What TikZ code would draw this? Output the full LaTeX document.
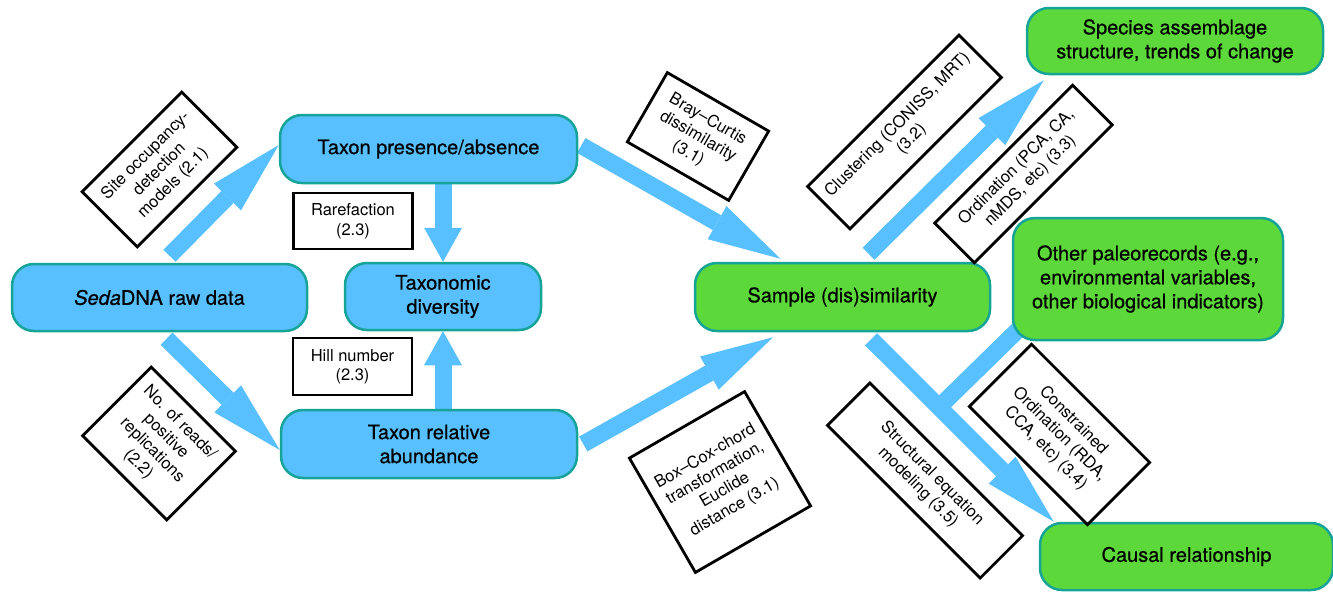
\documentclass[tikz,border=0pt]{standalone}
\usepackage{fontspec}
\setmainfont{TeX Gyre Heros}
\newfontfamily\stagefont[FakeBold=0.6]{TeX Gyre Heros}
\usetikzlibrary{arrows.meta,backgrounds,calc}

\definecolor{boxblue}{HTML}{58C0FE}
\definecolor{boxgreen}{HTML}{5DD83A}
\definecolor{boxedge}{HTML}{17A498}

\tikzset{
  stage/.style={draw=boxedge, line width=2.5pt, rounded corners=22pt, align=center,
    inner sep=0pt, font=\stagefont\fontsize{20}{24}\selectfont},
  datastage/.style={stage, fill=boxblue},
  resultstage/.style={stage, fill=boxgreen},
  method/.style={draw, line width=2.8pt, fill=white, align=center, inner sep=0pt,
    font=\fontsize{16.5}{19.5}\selectfont},
  flow/.style={line width=17pt, draw=boxblue,
    -{Triangle[length=73pt,width=38pt,line width=0pt]}},
  shortflow/.style={line width=17pt, draw=boxblue,
    -{Triangle[length=34pt,width=38pt,line width=0pt]}},
}

\begin{document}
\begin{tikzpicture}[x=1pt,y=-1pt]
    \useasboundingbox (0,0) rectangle (1333,592);

    % data stages
    \node[datastage, minimum width=295pt, minimum height=67pt] (raw) at (159.5,297.5) {\textit{Seda}DNA raw data};
    \node[datastage, minimum width=297pt, minimum height=68pt] (pres) at (428.5,149) {Taxon presence/absence};
    \node[datastage, minimum width=196pt, minimum height=67pt] (div) at (443,296.5) {Taxonomic\\diversity};
    \node[datastage, minimum width=296pt, minimum height=68pt] (abund) at (429,444) {Taxon relative\\abundance};

    % results
    \node[resultstage, minimum width=295pt, minimum height=68pt] (sim) at (842.5,297) {Sample (dis)similarity};
    \node[resultstage, minimum width=296pt, minimum height=66pt] (species) at (1175,41) {Species assemblage\\structure, trends of change};
    \node[resultstage, minimum width=270pt, minimum height=122pt] (other) at (1148,279) {Other paleorecords (e.g.,\\environmental variables,\\other biological indicators)};
    \node[resultstage, minimum width=293pt, minimum height=67pt] (causal) at (1186.5,556.5) {Causal relationship};

    % methods
    \node[method, rotate=45, minimum width=141pt, minimum height=78pt] (occ) at (159.5,169.5) {Site occupancy-\\detection\\models (2.1)};
    \node[method, rotate=-45, minimum width=119pt, minimum height=97pt] (reads) at (159,443.5) {No. of reads/\\positive\\replications\\(2.2)};
    \node[method, minimum width=119pt, minimum height=56pt] (rare) at (353,221) {Rarefaction\\(2.3)};
    \node[method, minimum width=119pt, minimum height=57pt] (hill) at (352.5,366.5) {Hill number\\(2.3)};
    \node[method, rotate=-30, minimum width=117pt, minimum height=80pt] (bray) at (698,136.5) {Bray--Curtis\\dissimilarity\\(3.1)};
    \node[method, rotate=30, minimum width=133pt, minimum height=132pt] (boxcox) at (720,482) {Box--Cox-chord\\transformation,\\Euclide\\distance (3.1)};
    \node[method, rotate=45, minimum width=214pt, minimum height=60pt] (clust) at (904.5,132) {Clustering (CONISS, MRT)\\(3.2)};
    \node[method, rotate=45, minimum width=195pt, minimum height=56pt] (ord) at (1023.5,174) {Ordination (PCA, CA,\\nMDS, etc) (3.3)};
    \node[method, rotate=-45, minimum width=216pt, minimum height=60pt] (sem) at (925,480.5) {Structural equation\\modeling (3.5)};
    \node[method, rotate=-45, minimum width=167pt, minimum height=88pt] (constr) at (1059.5,434.5) {Constrained\\Ordination (RDA,\\CCA, etc) (3.4)};

    \begin{pgfonlayer}{background}
      \draw[flow] ([xshift=10pt,yshift=7pt]raw.north) -- ([yshift=4pt]pres.west);
      \draw[flow] ([xshift=7pt,yshift=-6.5pt]raw.south) -- ([yshift=-6pt]abund.west);
      \draw[shortflow] (pres.south -| div.north) -- (div.north);
      \draw[shortflow] (abund.north -| div.south) -- (div.south);
      \draw[flow] ([xshift=3pt,yshift=3.5pt]pres.east) -- ([xshift=-62pt,yshift=3pt]sim.north);
      \draw[flow] ([xshift=5pt]abund.east) -- ([xshift=-69.5pt,yshift=-5pt]sim.south);
      \draw[flow] ([xshift=26pt,yshift=8pt]sim.north) -- ([xshift=18pt,yshift=-5pt]species.south west);

      \coordinate (simout) at ([xshift=28.5pt,yshift=-7pt]sim.south);
      \coordinate (causalin) at ([xshift=15pt]causal.north west);
      \draw[flow] (simout) -- (causalin);
      \coordinate (join) at ($(simout)!0.372!(causalin)$);
      \draw[line width=17pt, draw=boxblue] ([xshift=11.5pt,yshift=16.5pt]other.south west) -- (join);
    \end{pgfonlayer}
\end{tikzpicture}
\end{document}
